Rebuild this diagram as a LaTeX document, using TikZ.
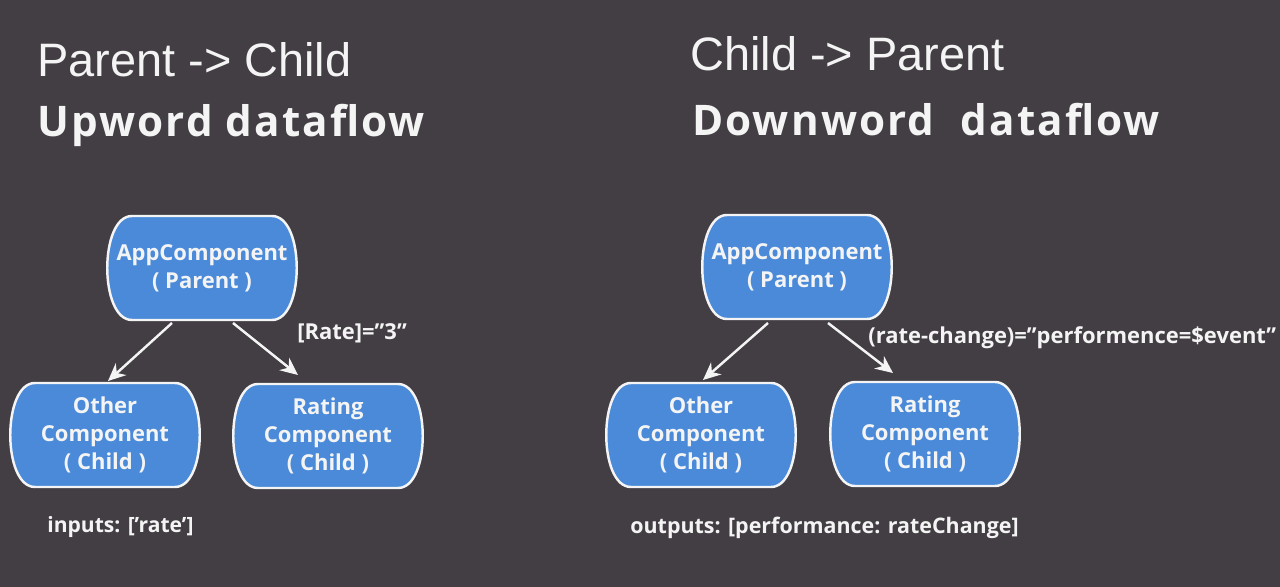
\documentclass[tikz,border=0pt]{standalone}
\usepackage{fontspec}
\setmainfont{Open Sans}
\newfontfamily\headfont{Liberation Sans}
\usetikzlibrary{arrows.meta,positioning,calc,backgrounds}
\definecolor{backdrop}{HTML}{433E44}
\definecolor{compblue}{HTML}{4A8AD9}
\definecolor{chalk}{HTML}{F4F4F4}

\begin{document}
\begin{tikzpicture}[x=0.02cm, y=-0.02cm,
    comp/.style={align=center, inner sep=0pt, text=chalk,
                 font=\fontsize{12.5}{15.9}\selectfont\bfseries},
    compedge/.style={draw=chalk, fill=compblue, line width=1.4pt},
    flow/.style={-{Stealth[length=10pt, width=9pt]}, line width=1.4pt, chalk},
    lbl/.style={anchor=west, inner sep=0pt, text=chalk,
                font=\fontsize{12.5}{15}\selectfont\bfseries},
    title/.style={anchor=base west, inner sep=0pt, text=chalk,
                  font=\headfont\fontsize{26.7}{30}\selectfont},
    heading/.style={anchor=base west, inner sep=0pt, text=chalk,
                    font=\fontsize{24}{28}\selectfont\bfseries\addfontfeatures{LetterSpace=5}}
  ]
  \useasboundingbox (0,0) rectangle (1280,587);

  % titles
  \node[title] (titleL) at (37,77) {Parent -> Child};
  \node[heading] (flowL) at (37,137) {Upword dataflow};
  \node[title] (titleR) at (690,71) {Child -> Parent};
  \node[heading] (flowR) at (692,136) {Downword\ \ dataflow};

  % components
  \node[comp] (appL) at (202,268) {AppComponent\\( Parent )};
  \node[comp] (otherL) at (105,435) {Other\\Component\\( Child )};
  \node[comp] (ratingL) at (328,436) {Rating\\Component\\( Child )};

  \node[comp] (appR) at (797,267) {AppComponent\\( Parent )};
  \node[comp] (otherR) at (701,435) {Other\\Component\\( Child )};
  \node[comp] (ratingR) at (925,434) {Rating\\Component\\( Child )};

  \begin{scope}[on background layer]
    \fill[backdrop] (0,0) rectangle (1280,587);
    \foreach \n in {appL,otherL,ratingL,appR,otherR,ratingR}
      \draw[compedge] ($(\n.center)+(-70,-52)$) -- ($(\n.center)+(70,-52)$)
        .. controls ($(\n.center)+(103,-52)$) and ($(\n.center)+(103,52)$) .. ($(\n.center)+(70,52)$)
        -- ($(\n.center)+(-70,52)$)
        .. controls ($(\n.center)+(-103,52)$) and ($(\n.center)+(-103,-52)$) .. cycle;
  \end{scope}

  % data flow
  \draw[flow] ($(appL.center)+(-30,55)$) -- ($(otherL.center)+(3,-54)$);
  \draw[flow] ($(appL.center)+(31,55)$) -- ($(ratingL.center)+(-30,-61)$);
  \draw[flow] ($(appR.center)+(-29,56)$) -- ($(otherR.center)+(2,-55)$);
  \draw[flow] ($(appR.center)+(31,56)$) -- ($(ratingR.center)+(-32,-61)$);

  % bindings
  \node[lbl] (rateL) at (297,333) {[Rate]=”3”};
  \node[lbl] (eventR) at (868,338) {(rate-change)=”performence=\$event”};
  \node[lbl, font=\fontsize{12}{15}\selectfont\bfseries] (inputsL) at (47,527) {inputs: [’rate’]};
  \node[lbl, font=\fontsize{12.2}{15}\selectfont\bfseries] (outputsR) at (630,528) {outputs: [performance: rateChange]};
\end{tikzpicture}
\end{document}
